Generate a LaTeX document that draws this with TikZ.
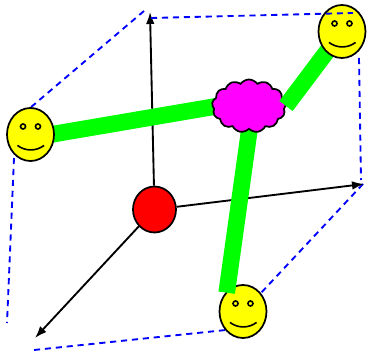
\documentclass[tikz,border=0pt]{standalone}
\usetikzlibrary{shapes.geometric,shapes.symbols,arrows.meta}
\tikzset{every picture/.style={line width=0.75pt}}
\definecolor{faceyellow}{RGB}{255,255,0}
\definecolor{nodered}{RGB}{255,0,0}
\definecolor{hubmagenta}{RGB}{255,0,255}
\definecolor{linkgreen}{RGB}{0,255,0}
\definecolor{edgeblue}{RGB}{0,0,255}
\tikzset{
  face/.style={ellipse,draw=black,fill=faceyellow,line width=1.3pt,inner sep=0pt,minimum width=35.25pt,minimum height=39.75pt,
    path picture={
      \draw [line width=1.2pt] (path picture bounding box.center) ++(-5.6pt,6pt) circle (1.9pt);
      \draw [line width=1.2pt] (path picture bounding box.center) ++(5.6pt,6pt) circle (1.9pt);
      \draw [line width=1.2pt] (path picture bounding box.center) ++(-9.8pt,-8.2pt) .. controls +(6pt,-4.5pt) and +(-6pt,-4.5pt) .. ++(20pt,0pt);
    }},
  axis/.style={draw=black,line width=1.4pt,-{Latex[length=9pt,width=6.5pt]}},
  edge/.style={draw=edgeblue,line width=1.4pt,dash pattern=on 4.6pt off 3.6pt},
  link/.style={draw=linkgreen,line width=12.5pt}
}
\begin{document}
\begin{tikzpicture}[x=0.75pt,y=0.75pt,yscale=-1,xscale=1]
\useasboundingbox (0,0) rectangle (369,352);

% corners of the box
\coordinate (cornerback) at (144,11);
\coordinate (cornertop) at (151,18);
\coordinate (cornertopend) at (353,13);
\coordinate (cornerright) at (359,58);
\coordinate (cornerrightend) at (361,180);
\coordinate (cornerlow) at (363,184);
\coordinate (cornerlowend) at (260,294);
\coordinate (cornerfront) at (34,350);
\coordinate (cornerfrontend) at (226,330);
\coordinate (cornerleft) at (14,158);
\coordinate (cornerleftend) at (7,323);
\coordinate (cornerup) at (30,108);

% ends of the axes
\coordinate (axisup) at (150,12);
\coordinate (axisright) at (364,184);
\coordinate (axisfront) at (35,338);

% ends of the thick links
\coordinate (linktop) at (286,106);
\coordinate (linkbottom) at (226.7,292.7);
\coordinate (linkbottomhub) at (252.7,106);
\coordinate (linkleft) at (30.5,138);
\coordinate (linklefthub) at (249,100.7);
\coordinate (hubcentre) at (249,106);

% Dashed box
\draw [edge] (cornerback) -- (cornerup);
\draw [edge] (cornerleft) -- (cornerleftend);
\draw [edge] (cornerright) -- (cornerrightend);
\draw [edge] (cornerlow) -- (cornerlowend);
\draw [edge] (cornerfront) -- (cornerfrontend);

% Axes, red node on top of them
\node (origin) [ellipse,draw=black,fill=nodered,line width=1.3pt,inner sep=0pt,minimum width=32.25pt,minimum height=34.5pt] at (154.5,209.5) {};
\draw [axis] (origin) -- (axisup);
\draw [axis] (origin) -- (axisright);
\draw [axis] (origin) -- (axisfront);

% Faces and links
\node (facebottom) [face] at (243,311.5) {};
\draw [link] (linkbottomhub) -- (linkbottom);
\draw [link] (linkleft) -- (linklefthub);
\node (hub) [cloud,draw=black,fill=hubmagenta,line width=1.3pt,cloud puffs=13,cloud puff arc=110,aspect=1.5,inner sep=0pt,minimum width=55.5pt,minimum height=39.75pt] at (hubcentre) {};
\node (faceleft) [face] at (30.5,134.5) {};
\coordinate (facetopcentre) at (342,31.5);
\draw [link] (linktop) -- (facetopcentre);
\node (facetop) [face] at (facetopcentre) {};
\draw [edge] (cornertop) -- (cornertopend);
\end{tikzpicture}
\end{document}
